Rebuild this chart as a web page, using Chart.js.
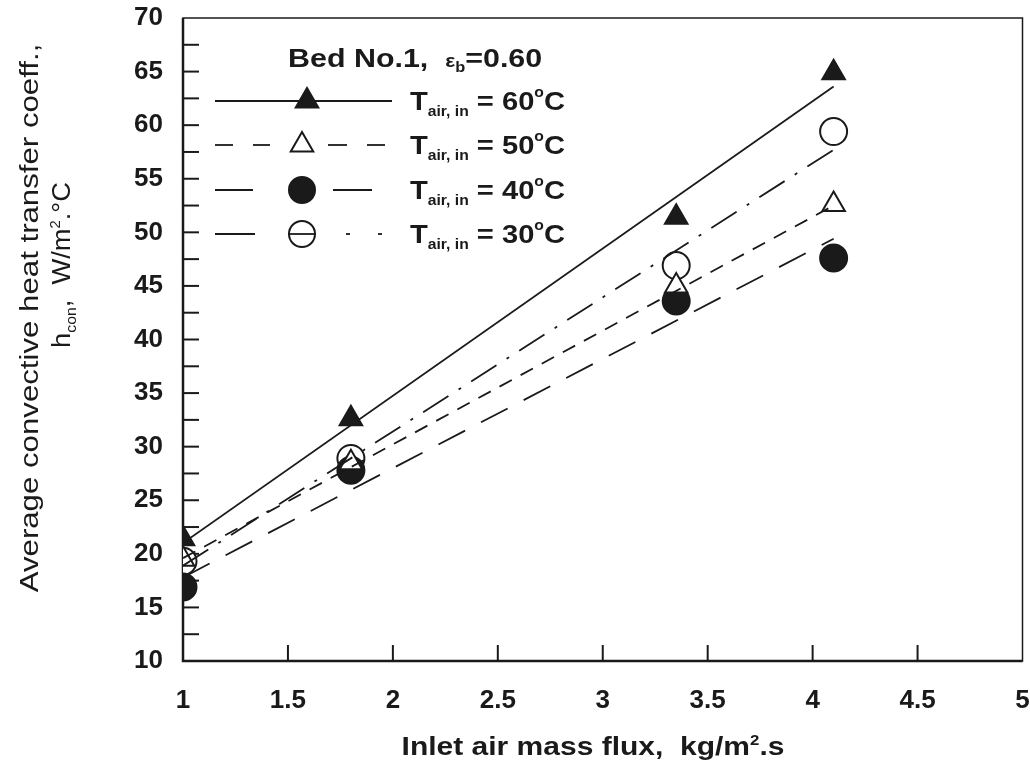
<!DOCTYPE html>
<html>
<head>
<meta charset="utf-8">
<script src="https://cdn.jsdelivr.net/npm/chart.js@4.4.0/dist/chart.umd.min.js"></script>
<style>
  html, body { margin: 0; padding: 0; background: #fff; overflow: hidden; }
  #wrap { width: 1030px; height: 763px; overflow: hidden; }
  #fluxChart { display: block; }
</style>
</head>
<body>
<div id="wrap"><canvas id="fluxChart" width="1038" height="763"></canvas></div>
<script>
// measured points
const massFlux = [1, 1.8, 3.35, 4.1];
const h60 = [21.4, 32.6, 51.4, 64.9];
const h50 = [19.5, 28.5, 45.0, 52.6];
const h40 = [16.9, 27.8, 43.6, 47.6];
const h30 = [19.3, 28.9, 46.9, 59.4];

// fitted lines (end points)
const fitX = [1, 4.1];
const fit60 = [21.0, 63.6];
const fit50 = [19.6, 52.5];
const fit40 = [17.8, 49.4];
const fit30 = [18.9, 57.7];

const xTicks = [1, 1.5, 2, 2.5, 3, 3.5, 4, 4.5, 5];
const yTicks = [10, 15, 20, 25, 30, 35, 40, 45, 50, 55, 60, 65, 70];
const tempLabels = ['60', '50', '40', '30'];

const FONT = '"Liberation Sans", Arial, sans-serif';
const INK = '#1a1a1a';

const pts = (xs, ys) => xs.map((x, i) => ({ x: x, y: ys[i] }));
const noPad = () => ({ left: 0, top: 0, right: 0, bottom: 0 });

function markerSet(label, ys, style, filled, r) {
  return {
    label: label,
    data: pts(massFlux, ys),
    showLine: false,
    pointStyle: style,
    pointRadius: r,
    pointBackgroundColor: filled ? INK : '#fff',
    pointBorderColor: INK,
    pointBorderWidth: 2
  };
}

function fitSet(ys, dash) {
  return {
    data: pts(fitX, ys),
    showLine: true,
    borderColor: INK,
    borderWidth: 1.8,
    borderDash: dash,
    pointRadius: 0,
    fill: false
  };
}

// text pieces in a row, stretched sideways like the scan; pieces: [text, size, dy]
function richWidth(ctx, pieces, weight) {
  let w = 0;
  pieces.forEach(p => {
    ctx.font = weight + ' ' + p[1] + 'px ' + FONT;
    w += ctx.measureText(p[0]).width;
  });
  return w;
}
function richText(ctx, pieces, x, y, weight, sx) {
  ctx.save();
  ctx.translate(x, y);
  ctx.scale(sx, 1);
  let cx = 0;
  pieces.forEach(p => {
    ctx.font = weight + ' ' + p[1] + 'px ' + FONT;
    ctx.fillText(p[0], cx, p[2] || 0);
    cx += ctx.measureText(p[0]).width;
  });
  ctx.restore();
}

const decorPlugin = {
  id: 'decor',
  beforeDatasetsDraw(chart) {
    const ctx = chart.ctx;
    const a = chart.chartArea;
    const xs = chart.scales.x, ys = chart.scales.y;
    ctx.save();
    ctx.strokeStyle = INK;
    // frame
    ctx.lineWidth = 1.5;
    ctx.strokeRect(a.left, a.top, a.right - a.left, a.bottom - a.top);
    ctx.lineWidth = 2.5;
    ctx.beginPath();
    ctx.moveTo(a.left, a.top);
    ctx.lineTo(a.left, a.bottom);
    ctx.lineTo(a.right, a.bottom);
    ctx.stroke();
    // inward ticks
    ctx.lineWidth = 2;
    for (let v = 12.5; v < 70; v += 2.5) {
      const py = ys.getPixelForValue(v);
      ctx.beginPath();
      ctx.moveTo(a.left, py);
      ctx.lineTo(a.left + 16, py);
      ctx.stroke();
    }
    xTicks.slice(1, -1).forEach(v => {
      const px = xs.getPixelForValue(v);
      ctx.beginPath();
      ctx.moveTo(px, a.bottom);
      ctx.lineTo(px, a.bottom - 16);
      ctx.stroke();
    });
    // x tick labels
    ctx.fillStyle = INK;
    ctx.font = 'bold 26px ' + FONT;
    ctx.textAlign = 'center';
    ctx.textBaseline = 'middle';
    xTicks.forEach(v => {
      ctx.fillText(String(v), xs.getPixelForValue(v), a.bottom + 40);
    });
    ctx.restore();
  },
  afterDraw(chart) {
    const ctx = chart.ctx;
    ctx.save();
    ctx.fillStyle = INK;
    ctx.strokeStyle = INK;
    ctx.textBaseline = 'alphabetic';

    // legend title
    richText(ctx, [['Bed No.1,  ', 26], ['\u03b5', 18], ['b', 14, 5], ['=0.60', 26]], 288, 67, 'bold', 1.17);

    // legend rows
    const rowY = [101, 145, 190, 234];
    rowY.forEach((ry, i) => {
      ctx.lineWidth = 1.8;
      const seg = (x0, x1) => { ctx.beginPath(); ctx.moveTo(x0, ry); ctx.lineTo(x1, ry); ctx.stroke(); };
      if (i === 0) {
        seg(215, 392);
      } else if (i === 1) {
        [[215, 233], [253, 270], [328, 347], [367, 385]].forEach(s => seg(s[0], s[1]));
      } else if (i === 2) {
        seg(215, 253); seg(333, 372);
      } else {
        seg(215, 255); seg(288, 316); seg(346, 350); seg(378, 382);
      }
      const mk = [
        { pointStyle: 'triangle', fill: INK },
        { pointStyle: 'triangle', fill: '#fff' },
        { pointStyle: 'circle', fill: INK },
        { pointStyle: 'circle', fill: 'rgba(0,0,0,0)' }
      ][i];
      const mx = i === 0 ? 307 : 302;
      ctx.fillStyle = mk.fill;
      ctx.lineWidth = 2;
      Chart.helpers.drawPoint(ctx, { pointStyle: mk.pointStyle, radius: 13, rotation: 0, borderWidth: 2 }, mx, ry);
      ctx.fillStyle = INK;
      richText(ctx, [['T', 26], ['air, in', 14, 6], [' = ', 26], [tempLabels[i], 26], ['o', 14, -13], ['C', 26]], 410, ry + 9, 'bold', 1.12);
    });

    // y axis title
    const line1 = [['Average convective heat transfer coeff.,', 26]];
    const w1 = richWidth(ctx, line1, 'normal') * 1.2;
    ctx.save();
    ctx.translate(38, 318);
    ctx.rotate(-Math.PI / 2);
    richText(ctx, line1, -w1 / 2, 0, 'normal', 1.2);
    ctx.restore();

    const line2 = [['h', 26], ['con', 15, 6], [',  W/m', 26], ['2', 14, -10], ['.\u00b0C', 26]];
    const w2 = richWidth(ctx, line2, 'normal') * 1.05;
    ctx.save();
    ctx.translate(70, 265);
    ctx.rotate(-Math.PI / 2);
    richText(ctx, line2, -w2 / 2, 0, 'normal', 1.05);
    ctx.restore();

    // x axis title
    const xt = [['Inlet air mass flux,  kg/m', 25], ['2', 14, -10], ['.s', 25]];
    const wx = richWidth(ctx, xt, 'bold') * 1.2;
    richText(ctx, xt, 593 - wx / 2, 755, 'bold', 1.2);

    ctx.restore();
  }
};

const ctx = document.getElementById('fluxChart').getContext('2d');
const fluxChart = new Chart(ctx, {
  type: 'scatter',
  data: {
    datasets: [
      fitSet(fit60, []),
      fitSet(fit50, [14, 10]),
      fitSet(fit40, [30, 18]),
      fitSet(fit30, [30, 12, 3, 12]),
      markerSet('50', h50, 'triangle', false, 13),
      markerSet('40', h40, 'circle', true, 13.5),
      markerSet('30', h30, 'circle', false, 13.5),
      markerSet('60', h60, 'triangle', true, 13)
    ]
  },
  options: {
    responsive: false,
    animation: false,
    layout: { padding: { left: 0, right: 8, top: 18, bottom: 0 } },
    plugins: { legend: { display: false }, tooltip: { enabled: false } },
    scales: {
      x: {
        type: 'linear',
        min: 1,
        max: 5,
        afterBuildTicks: s => { s.ticks = xTicks.map(v => ({ value: v })); },
        afterFit: s => { s.height = 102; s.paddingLeft = 0; s.paddingRight = 0; s.getPadding = noPad; },
        grid: { display: false, drawTicks: false },
        border: { display: false },
        ticks: { display: false }
      },
      y: {
        type: 'linear',
        min: 10,
        max: 70,
        afterBuildTicks: s => { s.ticks = yTicks.map(v => ({ value: v })); },
        afterFit: s => { s.width = 183; s.paddingTop = 0; s.paddingBottom = 0; s.getPadding = noPad; },
        grid: { display: false, drawTicks: false },
        border: { display: false },
        ticks: { padding: 20, color: INK, callback: v => String(v), font: { family: FONT, size: 26, weight: 'bold' } }
      }
    }
  },
  plugins: [decorPlugin]
});
</script>
</body>
</html>
